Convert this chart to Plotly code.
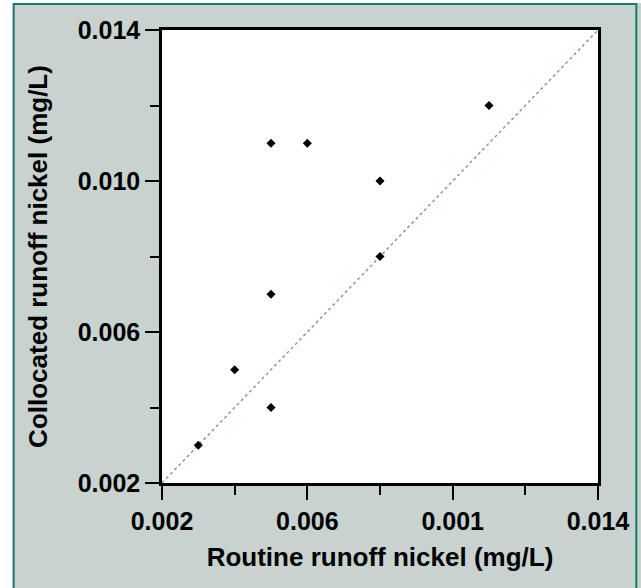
import plotly.graph_objects as go

# Data
routine = [0.003, 0.004, 0.005, 0.005, 0.005, 0.006, 0.008, 0.008, 0.011]
collocated = [0.003, 0.005, 0.004, 0.007, 0.011, 0.011, 0.010, 0.008, 0.012]
x_tickvals = [0.002, 0.006, 0.010, 0.014]
x_ticktext = ["0.002", "0.006", "0.001", "0.014"]
y_tickvals = [0.002, 0.006, 0.010, 0.014]
y_ticktext = ["0.002", "0.006", "0.010", "0.014"]
x_title = "Routine runoff nickel (mg/L)"
y_title = "Collocated runoff nickel (mg/L)"
axis_range = [0.002, 0.014]

W, H = 641, 588
L, R, T, B = 162, 41, 30, 105
pw, ph = W - L - R, H - T - B

def px_x(p):
    return (p - L) / pw

def px_y(p):
    return (H - B - p) / ph

BG = "#c8d2ce"
TEAL = "#1c7a6c"
FONT = "Liberation Sans, Arial, sans-serif"

fig = go.Figure()
fig.add_trace(go.Scatter(
    x=axis_range, y=axis_range, mode="lines",
    line=dict(color="#7f9f98", width=1.5, dash="dot"),
    hoverinfo="skip", showlegend=False))
fig.add_trace(go.Scatter(
    x=routine, y=collocated, mode="markers",
    marker=dict(symbol="diamond", size=7, color="black"),
    showlegend=False))

axis_common = dict(
    range=axis_range, showgrid=False, zeroline=False,
    showline=True, linecolor="black", linewidth=2.5, mirror=True,
    ticks="outside", ticklen=14, tickwidth=1.5, tickcolor="black",
    tickfont=dict(family=FONT, size=25, color="black", weight="bold"),
    minor=dict(dtick=0.002, tick0=0.002, ticks="outside", ticklen=9,
               tickwidth=1.5, tickcolor="black", showgrid=False),
)

fig.update_xaxes(**axis_common, tickmode="array", tickvals=x_tickvals,
                 ticktext=x_ticktext,
                 title=dict(text=x_title, standoff=15,
                            font=dict(family=FONT, size=26, color="black", weight="bold")))
fig.update_yaxes(**axis_common, tickmode="array", tickvals=y_tickvals,
                 ticktext=y_ticktext,
                 title=dict(text=y_title, standoff=23,
                            font=dict(family=FONT, size=26, color="black", weight="bold")))

shapes = [
    dict(type="rect", xref="paper", yref="paper",
         x0=px_x(-5), x1=px_x(12), y0=px_y(H + 5), y1=px_y(-5),
         fillcolor="white", line=dict(width=0), layer="below"),
    dict(type="rect", xref="paper", yref="paper",
         x0=px_x(-5), x1=px_x(W + 5), y0=px_y(3), y1=px_y(-5),
         fillcolor="white", line=dict(width=0), layer="below"),
    dict(type="rect", xref="paper", yref="paper",
         x0=px_x(13), x1=px_x(638.5), y0=px_y(H + 10), y1=px_y(4),
         fillcolor="rgba(0,0,0,0)", line=dict(color=TEAL, width=2), layer="below"),
]

fig.update_layout(
    width=W, height=H,
    margin=dict(l=L, r=R, t=T, b=B, pad=0),
    paper_bgcolor=BG, plot_bgcolor="white",
    shapes=shapes, showlegend=False,
)

fig.write_html("out.html", config={"displayModeBar": False},
               post_script="document.body.style.margin='0';")
